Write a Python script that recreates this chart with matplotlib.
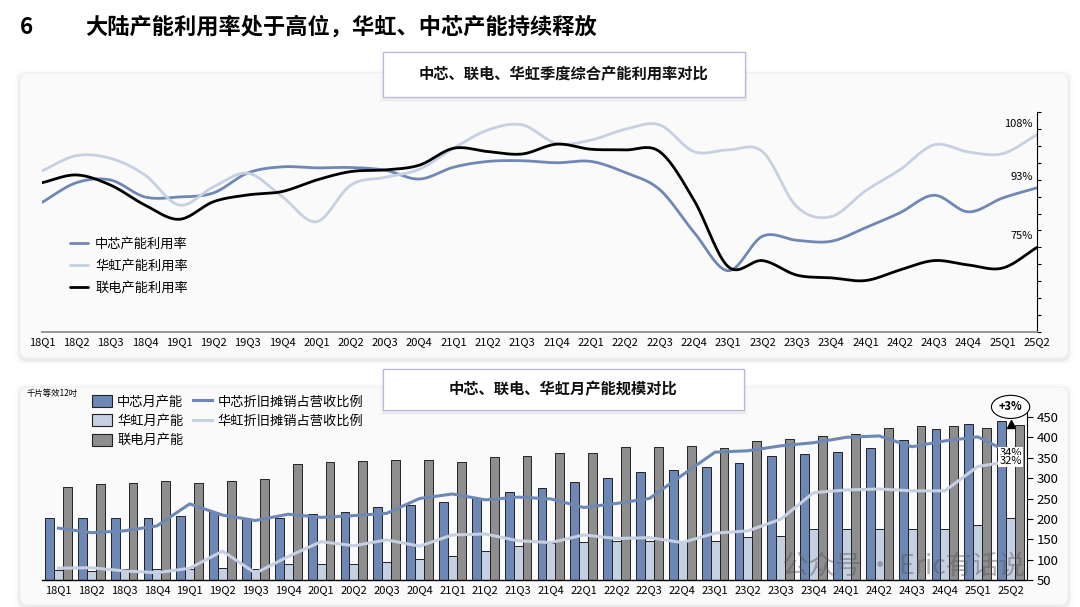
import numpy as np
import matplotlib
matplotlib.use("Agg")
import matplotlib.pyplot as plt
from matplotlib.patches import FancyBboxPatch, Rectangle, Patch
from matplotlib.lines import Line2D

plt.rcParams['font.family'] = ['Noto Sans CJK SC', 'DejaVu Sans']

quarters = ['18Q1', '18Q2', '18Q3', '18Q4', '19Q1', '19Q2', '19Q3', '19Q4',
            '20Q1', '20Q2', '20Q3', '20Q4', '21Q1', '21Q2', '21Q3', '21Q4',
            '22Q1', '22Q2', '22Q3', '22Q4', '23Q1', '23Q2', '23Q3', '23Q4',
            '24Q1', '24Q2', '24Q3', '24Q4', '25Q1', '25Q2']

# capacity utilisation, %
smic_util = [88.3, 94.1, 94.9, 89.9, 89.9, 91.1, 97.0, 98.8, 98.5, 98.6,
             97.8, 95.2, 98.7, 100.4, 100.6, 100.0, 100.4, 97.1, 92.1, 79.5,
             68.1, 78.3, 77.1, 76.8, 80.8, 85.2, 90.4, 85.5, 89.6, 92.6]
hh_util = [97.6, 102.1, 101.3, 96.4, 87.5, 92.9, 96.9, 90.0, 82.6, 93.4,
           95.7, 98.1, 104.3, 109.7, 111.2, 105.7, 106.7, 109.9, 111.2, 103.3,
           103.8, 103.3, 87.0, 84.1, 91.7, 97.9, 105.3, 103.2, 102.7, 108.3]
umc_util = [94.1, 96.4, 93.4, 87.5, 83.3, 88.5, 90.5, 91.5, 94.9, 97.4,
            97.9, 99.3, 104.3, 103.3, 102.6, 105.5, 104.0, 103.8, 103.3, 89.0,
            69.3, 71.1, 66.8, 66.0, 65.2, 68.3, 71.1, 69.8, 68.9, 75.0]

# monthly capacity, k wafers (12" equivalent)
smic_cap = [201, 201, 201, 201, 208, 216, 199, 201, 213, 216, 228, 234, 242, 252, 266,
            277, 290, 300, 315, 319, 327, 337, 355, 360, 365, 375, 394, 421, 432, 440]
hh_cap = [75, 72, 76, 78, 78, 79, 78, 90, 90, 90, 95, 101, 110, 122, 133,
          141, 144, 145, 145, 145, 145, 156, 159, 174, 174, 174, 174, 174, 184, 201]
umc_cap = [278, 286, 288, 293, 288, 293, 298, 334, 340, 341, 344, 344, 340, 352, 355,
           361, 361, 376, 377, 379, 375, 391, 396, 404, 408, 422, 427, 429, 423, 430]

# D&A as share of revenue, %
smic_da = [17.3, 16.3, 16.7, 17.8, 22.7, 20.2, 19.0, 20.4, 19.7, 20.1, 20.6, 23.9, 24.9, 23.6, 24.2,
           23.8, 21.9, 22.8, 23.9, 29.1, 34.2, 34.5, 35.6, 36.3, 37.5, 37.8, 35.4, 36.7, 37.6, 34.0]
hh_da = [8.4, 8.5, 7.8, 7.4, 8.4, 12.2, 7.3, 11.0, 14.3, 13.4, 14.7, 13.3, 15.8, 16.0, 14.5,
         14.1, 15.8, 15.0, 15.2, 14.1, 16.2, 16.7, 19.3, 25.2, 25.8, 26.0, 25.6, 25.6, 31.0, 32.2]

C_SMIC = '#6E88B6'
C_HH = '#C6D0E3'
C_UMC = '#8E8E8E'


def smooth(x, y, n=20):
    # catmull-rom through the points, like excel's smoothed line
    x = np.asarray(x, float)
    y = np.asarray(y, float)
    px = np.concatenate([[2 * x[0] - x[1]], x, [2 * x[-1] - x[-2]]])
    py = np.concatenate([[2 * y[0] - y[1]], y, [2 * y[-1] - y[-2]]])
    t = np.linspace(0, 1, n, endpoint=False)
    ox, oy = [], []
    for i in range(1, len(px) - 2):
        for p, out in ((px, ox), (py, oy)):
            p0, p1, p2, p3 = p[i - 1], p[i], p[i + 1], p[i + 2]
            out.extend(0.5 * (2 * p1 + (-p0 + p2) * t + (2 * p0 - 5 * p1 + 4 * p2 - p3) * t ** 2
                              + (-p0 + 3 * p1 - 3 * p2 + p3) * t ** 3))
    ox.append(x[-1])
    oy.append(y[-1])
    return np.array(ox), np.array(oy)


fig = plt.figure(figsize=(10.8, 6.07), dpi=100)

# background layer in pixel coordinates
bg = fig.add_axes([0, 0, 1, 1], zorder=-5)
bg.set_xlim(0, 1080)
bg.set_ylim(607, 0)
bg.axis('off')


def panel(x0, y0, x1, y1):
    for k, a in [(5, 0.015), (3, 0.025), (1.5, 0.04)]:
        bg.add_patch(FancyBboxPatch((x0 - k, y0 - k + 2), x1 - x0 + 2 * k, y1 - y0 + 2 * k,
                                    boxstyle='round,pad=0,rounding_size=9',
                                    fc='black', ec='none', alpha=a))
    bg.add_patch(FancyBboxPatch((x0, y0), x1 - x0, y1 - y0,
                                boxstyle='round,pad=0,rounding_size=8',
                                fc='#FAFAFA', ec='#EFEFEF', lw=0.6))


def title_box(x0, y0, x1, y1, text):
    for k, a in [(3, 0.02), (1.5, 0.04)]:
        bg.add_patch(Rectangle((x0 - k, y0 - k + 2), x1 - x0 + 2 * k, y1 - y0 + 2 * k,
                               fc='black', ec='none', alpha=a))
    bg.add_patch(Rectangle((x0, y0), x1 - x0, y1 - y0, fc='white', ec='#B6BADF', lw=0.9))
    bg.text((x0 + x1) / 2, (y0 + y1) / 2, text, ha='center', va='center',
            fontsize=11, fontweight='bold', color='#111111')


panel(20, 73, 1068, 358)
panel(20, 387, 1068, 605)
title_box(383, 52, 745, 97, '中芯、联电、华虹季度综合产能利用率对比')
title_box(383, 369, 744, 410, '中芯、联电、华虹月产能规模对比')

bg.text(20, 27, '6', fontsize=16, fontweight='bold', va='center')
bg.text(85, 27, '大陆产能利用率处于高位，华虹、中芯产能持续释放',
        fontsize=16, fontweight='bold', va='center')
bg.text(27, 393, '千片等效12吋', fontsize=6, va='center')

xs = np.arange(len(quarters))

# ---- top: utilisation
ax1 = fig.add_axes([42 / 1080, 1 - 332 / 607, 995 / 1080, 220 / 607])
ax1.patch.set_alpha(0)
ax1.set_xlim(0, len(quarters) - 1)
ax1.set_ylim(50, 115)
for name, vals, col, lw in [('中芯产能利用率', smic_util, C_SMIC, 2.0),
                            ('华虹产能利用率', hh_util, C_HH, 2.0),
                            ('联电产能利用率', umc_util, 'black', 2.0)]:
    sx, sy = smooth(xs, vals)
    ax1.plot(sx, sy, color=col, lw=lw, label=name, solid_capstyle='round')
    ax1.annotate(f'{vals[-1]:.0f}%', (xs[-1], vals[-1]), xytext=(-3, 8),
                 textcoords='offset points', ha='right', va='center', fontsize=8)
ax1.set_xticks(xs, quarters, fontsize=8)
ax1.tick_params(axis='x', length=0, pad=4)
ax1.yaxis.tick_right()
ax1.set_yticks(np.arange(50, 116, 5))
ax1.tick_params(axis='y', direction='out', length=3, width=0.8, labelright=False)
for s in ['top', 'left']:
    ax1.spines[s].set_visible(False)
ax1.spines['bottom'].set_color('#8C8C8C')
ax1.spines['bottom'].set_linewidth(1.3)
ax1.spines['right'].set_linewidth(0.8)
ax1.legend(loc='upper left', bbox_to_anchor=(70 / 1080, 1 - 238 / 607),
           bbox_transform=fig.transFigure, frameon=False, fontsize=9.5,
           handlelength=1.4, handletextpad=0.5, labelspacing=0.68,
           borderpad=0, borderaxespad=0)

# ---- bottom: monthly capacity
ax2 = fig.add_axes([42 / 1080, 1 - 580 / 607, 985 / 1080, 167 / 607])
ax2.patch.set_alpha(0)
w = 0.27
ax2.bar(xs - w, smic_cap, w, color=C_SMIC, edgecolor='#222222', lw=0.7)
ax2.bar(xs, hh_cap, w, color=C_HH, edgecolor='#222222', lw=0.7)
ax2.bar(xs + w, umc_cap, w, color=C_UMC, edgecolor='#222222', lw=0.7)
ax2.set_xlim(-0.5, len(quarters) - 0.5)
ax2.set_ylim(50, 460)

# "+3%" call-out over the latest quarter
ax2.plot(xs[-1], smic_cap[-1] - 6, marker='^', color='black', ms=6, zorder=6)
ax2.text(xs[-1], 475, '+3%', ha='center', va='center', fontsize=8, fontweight='bold',
         clip_on=False, zorder=6,
         bbox=dict(boxstyle='ellipse,pad=0.15', fc='white', ec='black', lw=0.8))

ax3 = ax2.twinx()
ax3.set_ylim(5.78, 42.9)
ax3.axis('off')
ax3.plot(xs, smic_da, color=C_SMIC, lw=2.2)
ax3.plot(xs, hh_da, color=C_HH, lw=2.2)
for vals in (smic_da, hh_da):
    ax3.text(xs[-1], vals[-1], f'{vals[-1]:.0f}%', ha='center', va='center', fontsize=8,
             bbox=dict(boxstyle='square,pad=0.1', fc='white', ec='none'), zorder=5)

# twinx moves ax2 ticks to the left, so set them up afterwards
ax2.set_xticks(xs, quarters, fontsize=8)
ax2.tick_params(axis='x', length=0, pad=4)
ax2.yaxis.tick_right()
ax2.set_yticks(np.arange(50, 451, 50))
ax2.tick_params(axis='y', direction='out', length=4, width=0.8, labelsize=9.5, pad=3,
                left=False, labelleft=False, right=True, labelright=True)
for s in ['top', 'left']:
    ax2.spines[s].set_visible(False)
ax2.spines['bottom'].set_linewidth(1.0)
ax2.spines['right'].set_linewidth(0.8)

handles = [Patch(fc=C_SMIC, ec='#222222', lw=0.8), Patch(fc=C_HH, ec='#222222', lw=0.8),
           Patch(fc=C_UMC, ec='#222222', lw=0.8),
           Line2D([], [], color=C_SMIC, lw=2.2), Line2D([], [], color=C_HH, lw=2.2)]
labels = ['中芯月产能', '华虹月产能', '联电月产能', '中芯折旧摊销占营收比例', '华虹折旧摊销占营收比例']
fig.legend(handles, labels, loc='upper left', bbox_to_anchor=(92 / 1080, 1 - 395 / 607),
           ncol=2, frameon=False, fontsize=9.5, handlelength=1.5, handleheight=1.0,
           handletextpad=0.4, labelspacing=0.45, columnspacing=0.7,
           borderpad=0, borderaxespad=0)

# watermark
fig.text(782 / 1080, 1 - 566 / 607, '公众号 · Eric有话说', fontsize=19,
         color='#555555', alpha=0.45, va='center')

fig.savefig('out.png', dpi=100)
